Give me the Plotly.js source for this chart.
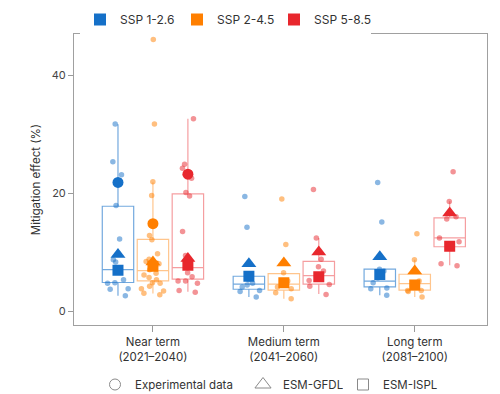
<!DOCTYPE html>
<html>
<head>
<meta charset="utf-8">
<script src="https://cdn.plot.ly/plotly-3.0.1.min.js"></script>
<style>html,body{margin:0;padding:0;background:#fff}#chart{width:500px;height:394px}</style>
</head>
<body>
<div id="chart"></div>
<script>
// ---- data ----
const periods = ['Near term<br>(2021–2040)', 'Medium term<br>(2041–2060)', 'Long term<br>(2081–2100)'];
const ssps = ['SSP 1-2.6', 'SSP 2-4.5', 'SSP 5-8.5'];
const models = ['Experimental data', 'ESM-GFDL', 'ESM-ISPL'];

// individual points per scenario and period
const pts126Near = [31.7, 25.3, 23.1, 17.9, 12.2, 8.7, 8.3, 7.0, 6.9, 5.3, 4.8, 4.7, 3.8, 3.7, 2.6];
const pts126Med  = [19.4, 14.2, 5.8, 5.3, 4.7, 4.4, 4.1, 3.5, 3.3, 2.4];
const pts126Long = [21.8, 15.1, 7.1, 6.8, 5.6, 4.8, 3.9, 3.8, 2.7];
const pts245Near = [46.0, 31.7, 21.9, 19.6, 12.8, 12.1, 9.7, 8.8, 8.4, 8.0, 7.0, 6.4, 6.1, 5.7, 5.3, 4.8, 4.7, 4.2, 3.8, 3.4, 3.0, 2.75];
const pts245Med  = [19.0, 11.3, 6.5, 5.1, 4.6, 4.1, 3.8, 3.1, 2.1];
const pts245Long = [13.1, 8.7, 5.1, 4.6, 3.5, 3.5, 3.3, 2.4];
const pts585Near = [32.6, 24.9, 24.2, 22.5, 20.1, 19.5, 13.5, 9.4, 8.0, 6.5, 5.8, 5.1, 5.1, 4.7, 3.5, 3.2];
const pts585Med  = [20.6, 12.4, 8.8, 7.5, 6.8, 5.8, 5.2, 4.5, 4.2, 2.8];
const pts585Long = [23.6, 18.55, 16.0, 15.6, 12.4, 11.75, 8.0, 7.7];

// box statistics [near, medium, long]
const q1_126 = [4.84, 3.7, 4.1],   med_126 = [7.03, 4.55, 5.06], q3_126 = [17.76, 5.9, 7.1],  lo_126 = [2.6, 2.4, 2.7],   hi_126 = [31.65, 6.0, 7.1];
const q1_245 = [5.11, 3.54, 3.54], med_245 = [6.86, 4.55, 4.66], q3_245 = [12.14, 6.35, 6.24], lo_245 = [2.98, 2.1, 2.4], hi_245 = [21.8, 6.5, 8.7];
const q1_585 = [5.4, 4.55, 10.9],  med_585 = [7.37, 6.0, 12.4],  q3_585 = [19.85, 8.43, 15.8], lo_585 = [3.26, 2.9, 7.75], hi_585 = [32.6, 12.4, 18.6];

// model values [near, medium, long]
const exp126 = [21.8, null, null], exp245 = [14.8, null, null], exp585 = [23.2, null, null];
const gfdl126 = [9.6, 8.0, 9.2],   gfdl245 = [8.3, 8.15, 6.8],  gfdl585 = [8.9, 10.0, 16.6];
const ispl126 = [6.9, 5.9, 6.2],   ispl245 = [7.6, 4.8, 4.4],   ispl585 = [7.75, 5.8, 11.0];

// ---- styling ----
const colors = ['#1570c8', '#ff7f00', '#e8272d'];
const boxLines = ['rgba(21,112,200,0.6)', 'rgba(255,127,0,0.45)', 'rgba(232,39,45,0.45)'];
const ptColors = ['rgba(21,112,200,0.5)', 'rgba(255,127,0,0.5)', 'rgba(232,39,45,0.5)'];
const offsets = [-0.267, 0, 0.267];
const BW = 0.24;

const ptsAll = [[pts126Near, pts126Med, pts126Long], [pts245Near, pts245Med, pts245Long], [pts585Near, pts585Med, pts585Long]];
const stats = [
  [q1_126, med_126, q3_126, lo_126, hi_126],
  [q1_245, med_245, q3_245, lo_245, hi_245],
  [q1_585, med_585, q3_585, lo_585, hi_585]
];
const modelVals = [[exp126, gfdl126, ispl126], [exp245, gfdl245, ispl245], [exp585, gfdl585, ispl585]];
const symbols = ['circle', 'triangle-up', 'square'];
const symSizes = [11, 13, 11];
const legSizes = [11, 14, 11];
const legNames = ['legend2', 'legend3', 'legend4'];

const traces = [];
// jittered points
for (let s = 0; s < 3; s++) {
  for (let p = 0; p < 3; p++) {
    const ys = ptsAll[s][p];
    traces.push({
      type: 'box', x: ys.map(() => p + offsets[s]), y: ys, width: BW,
      boxpoints: 'all', jitter: 0.9, pointpos: 0,
      fillcolor: 'rgba(0,0,0,0)', line: {width: 0, color: 'rgba(0,0,0,0)'},
      marker: {color: ptColors[s], size: 5.5},
      showlegend: false, hoverinfo: 'skip'
    });
  }
}
// boxes
for (let s = 0; s < 3; s++) {
  const st = stats[s];
  traces.push({
    type: 'box', x: [0, 1, 2].map(p => p + offsets[s]),
    q1: st[0], median: st[1], q3: st[2], lowerfence: st[3], upperfence: st[4],
    width: BW, boxpoints: false, fillcolor: 'rgba(0,0,0,0)',
    line: {color: boxLines[s], width: 1.2}, whiskerwidth: 0,
    showlegend: false, hoverinfo: 'skip'
  });
}
// model markers
for (let s = 0; s < 3; s++) {
  for (let m = 0; m < 3; m++) {
    traces.push({
      type: 'scatter', mode: 'markers',
      x: [0, 1, 2].map(p => p + offsets[s]), y: modelVals[s][m],
      marker: {symbol: symbols[m], size: symSizes[m], color: colors[s]},
      showlegend: false, hoverinfo: 'skip'
    });
  }
}
// legend entries: scenarios
for (let s = 0; s < 3; s++) {
  traces.push({type: 'scatter', mode: 'markers', x: [null], y: [null], name: ssps[s],
    marker: {symbol: 'square', size: 12, color: colors[s]}, legend: 'legend'});
}
// legend entries: models (one legend box each)
for (let m = 0; m < 3; m++) {
  traces.push({type: 'scatter', mode: 'markers', x: [null], y: [null], name: models[m],
    marker: {symbol: symbols[m] + '-open', size: legSizes[m], color: '#8a8a8a', line: {width: 1}}, legend: legNames[m]});
}

const font = {family: 'Inter, "Liberation Sans", Arial, sans-serif', size: 11, color: '#333'};
const botLegend = (xpx) => ({
  orientation: 'h', xref: 'container', yref: 'container', x: xpx / 500, y: 1 - 370 / 394,
  xanchor: 'left', yanchor: 'top', font: {size: 11.5, color: '#333'}
});
const layout = {
  width: 500, height: 394,
  margin: {l: 74, r: 12.7, t: 32.7, b: 69},
  paper_bgcolor: '#fff', plot_bgcolor: '#fff',
  font: font,
  showlegend: true,
  xaxis: {
    range: [-0.603, 2.552], tickvals: [0, 1, 2], ticktext: periods,
    ticks: 'outside', ticklen: 6, tickcolor: '#999', showline: true, mirror: true,
    linecolor: '#a0a0a0', linewidth: 1, showgrid: false, zeroline: false,
    tickfont: {size: 11.5, color: '#333'}
  },
  yaxis: {
    range: [-2.36, 46.9], tickvals: [0, 20, 40],
    ticks: 'outside', ticklen: 5, tickcolor: '#999', showline: true, mirror: true,
    linecolor: '#a0a0a0', linewidth: 1, showgrid: false, zeroline: false,
    tickfont: {size: 11, color: '#444'},
    title: {text: 'Mitigation effect (%)', font: {size: 11.5, color: '#333'}, standoff: 8}
  },
  legend: {
    orientation: 'h', xref: 'container', yref: 'container', x: 0.16, y: 1 - 5 / 394,
    xanchor: 'left', yanchor: 'top', entrywidth: 52, font: {size: 12, color: '#333'}
  },
  legend2: botLegend(95),
  legend3: botLegend(243),
  legend4: botLegend(343)
};

Plotly.newPlot('chart', traces, layout, {displayModeBar: false, staticPlot: true});
</script>
</body>
</html>
